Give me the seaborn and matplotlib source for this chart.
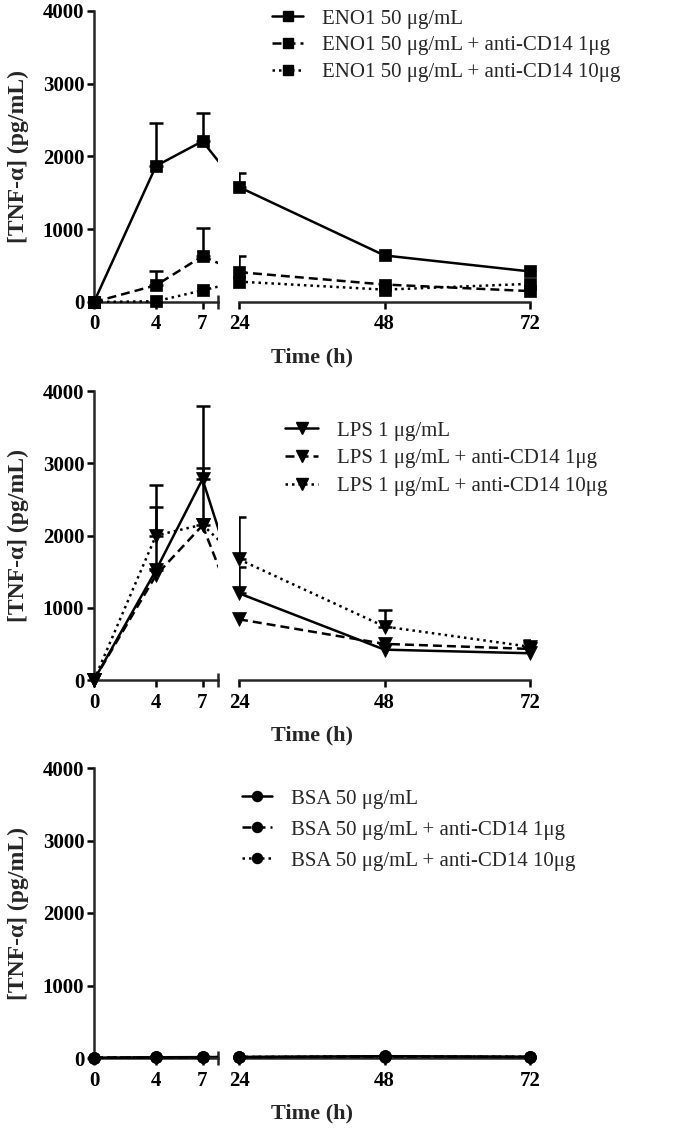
import numpy as np
import pandas as pd
import matplotlib
matplotlib.use("Agg")
import matplotlib.pyplot as plt
from matplotlib.lines import Line2D
from matplotlib.font_manager import FontProperties
import seaborn as sns

sns.set_theme(style="ticks")
plt.rcParams['font.family'] = ['Liberation Serif', 'DejaVu Serif']

# ---------------- data ----------------
times = [0, 4, 7, 24, 48, 72]
xticks_left = [0, 4, 7]
xticks_right = [24, 48, 72]
yticks = [0, 1000, 2000, 3000, 4000]

eno_labels = ["ENO1 50 \u03bcg/mL", "ENO1 50 \u03bcg/mL + anti-CD14 1\u03bcg",
              "ENO1 50 \u03bcg/mL + anti-CD14 10\u03bcg"]
eno_mean = [[0, 1870, 2210, 1580, 640, 420],
            [0, 230, 630, 410, 240, 150],
            [0, 10, 160, 280, 170, 250]]
eno_err = [[0, 590, 390, 190, 0, 0],
           [0, 200, 390, 220, 0, 0],
           [0, 0, 0, 0, 0, 0]]

lps_labels = ["LPS 1 \u03bcg/mL", "LPS 1 \u03bcg/mL + anti-CD14 1\u03bcg",
              "LPS 1 \u03bcg/mL + anti-CD14 10\u03bcg"]
lps_mean = [[0, 1520, 2780, 1200, 420, 370],
            [0, 1450, 2140, 840, 500, 430],
            [0, 2000, 2150, 1670, 740, 460]]
lps_err = [[0, 880, 1010, 360, 0, 0],
           [0, 0, 800, 0, 0, 0],
           [0, 700, 0, 590, 230, 90]]

bsa_labels = ["BSA 50 \u03bcg/mL", "BSA 50 \u03bcg/mL + anti-CD14 1\u03bcg",
              "BSA 50 \u03bcg/mL + anti-CD14 10\u03bcg"]
bsa_mean = [[5, 10, 12, 15, 25, 18],
            [5, 8, 10, 12, 20, 15],
            [5, 9, 11, 14, 22, 16]]
bsa_err = [[0, 0, 0, 0, 0, 0],
           [0, 0, 0, 0, 0, 0],
           [0, 0, 0, 0, 0, 0]]

ylabel = "[TNF-\u03b1] (pg/mL)"
xlabel = "Time (h)"

# ---------------- layout ----------------
W, H = 675, 1130
fig = plt.figure(figsize=(W / 100, H / 100), dpi=100)

def rect(x0, x1, ytop, ybot):
    return [x0 / W, 1 - ybot / H, (x1 - x0) / W, (ybot - ytop) / H]

styles = ["-", (0, (3.6, 2.0)), (0, (1.0, 1.6))]
LW = 1.8
tickfont = FontProperties(family='Liberation Serif', weight='bold', size=15)
LEGFS = 15

panels = [
    dict(labels=eno_labels, mean=eno_mean, err=eno_err, marker='s', ms=9,
         ytop=11, ybot=302, leg_x=272, leg_y=9, lspace=0.35, hl=1.5),
    dict(labels=lps_labels, mean=lps_mean, err=lps_err, marker='v', ms=10,
         ytop=391, ybot=680, leg_x=285, leg_y=421, lspace=0.4, hl=1.6),
    dict(labels=bsa_labels, mean=bsa_mean, err=bsa_err, marker='o', ms=8.5,
         ytop=768, ybot=1058, leg_x=242, leg_y=789, lspace=0.55, hl=1.45),
]

for p in panels:
    axl = fig.add_axes(rect(94, 218, p['ytop'], p['ybot']))
    axr = fig.add_axes(rect(239, 530, p['ytop'], p['ybot']), sharey=axl)
    axl.set_xlim(0, 8)
    axr.set_xlim(24, 72)
    axl.set_ylim(0, 4000)
    for ax in (axl, axr):
        ax.patch.set_alpha(0)
        for s in ['top', 'right']:
            ax.spines[s].set_visible(False)
        ax.spines['bottom'].set_linewidth(LW)
        ax.spines['left'].set_linewidth(LW)
        ax.tick_params(axis='both', direction='out', length=5, width=LW,
                       colors='black', pad=4)
    axr.spines['left'].set_visible(False)
    axr.tick_params(axis='y', left=False, labelleft=False)
    axl.set_xticks(xticks_left)
    axr.set_xticks(xticks_right)
    axl.set_xticks([8], minor=True)
    axl.tick_params(axis='x', which='minor', direction='inout', length=10, width=LW)
    axr.set_xticks([24], minor=True)
    axr.tick_params(axis='x', which='minor', direction='in', length=5, width=LW)
    axl.set_yticks(yticks)
    axl.tick_params(axis='y', pad=2)

    # pixel-based bridge position: where x=24 of right axis falls in left-axis data units
    d24 = axr.transData.transform((24, 0))[0]
    xv = axl.transData.inverted().transform((d24, 0))[0]

    handles = []
    for k in range(3):
        mean = np.array(p['mean'][k], dtype=float)
        err = np.array(p['err'][k], dtype=float)
        t = np.array(times, dtype=float)
        ls = styles[k]
        for ax, mask in ((axl, t <= 8), (axr, t >= 24)):
            df = pd.DataFrame({"t": t[mask], "v": mean[mask]})
            sns.lineplot(data=df, x="t", y="v", ax=ax, color='black',
                         linestyle=ls, linewidth=LW, marker=p['marker'],
                         markersize=p['ms'], markeredgecolor='black',
                         markeredgewidth=0.5, clip_on=False, legend=False,
                         errorbar=None, zorder=3)
            em = mask & (err > 0)
            if em.any():
                ax.errorbar(t[em], mean[em], yerr=[np.zeros(em.sum()), err[em]],
                            fmt='none', ecolor='black', elinewidth=LW,
                            capsize=5, capthick=LW, zorder=2)
        # bridge line from 7 toward 24 across the axis break (clipped at left axis end)
        i7, i24 = times.index(7), times.index(24)
        axl.plot([7, xv], [mean[i7], mean[i24]], color='black', linestyle=ls,
                 linewidth=LW, clip_on=True, zorder=2)
        handles.append(Line2D([], [], color='black', linestyle=ls, linewidth=LW,
                              marker=p['marker'], markersize=p['ms'] * 0.85,
                              markeredgecolor='black'))
    axl.set_xlim(0, 8)
    axr.set_xlim(24, 72)
    axl.set_ylim(0, 4000)
    for ax in (axl, axr):
        ax.set_xlabel("")
        ax.set_ylabel("")
        for lab in ax.get_xticklabels() + ax.get_yticklabels():
            lab.set_fontproperties(tickfont)

    fig.legend(handles, p['labels'], loc='upper left',
               bbox_to_anchor=(p['leg_x'] / W, 1 - p['leg_y'] / H),
               bbox_transform=fig.transFigure, frameon=False,
               borderaxespad=0, borderpad=0, handlelength=p['hl'],
               handletextpad=0.9, labelspacing=p['lspace'],
               prop=dict(family='Liberation Serif', size=LEGFS))

    fig.text(312 / W, 1 - (p['ybot'] + 55) / H, xlabel, ha='center', va='center',
             fontsize=16, fontweight='bold', family='Liberation Serif')
    fig.text(18 / W, 1 - ((p['ytop'] + p['ybot']) / 2) / H, ylabel, rotation=90,
             ha='center', va='center', fontsize=17, fontweight='bold',
             family='Liberation Serif')

fig.savefig("out.png", dpi=100)
